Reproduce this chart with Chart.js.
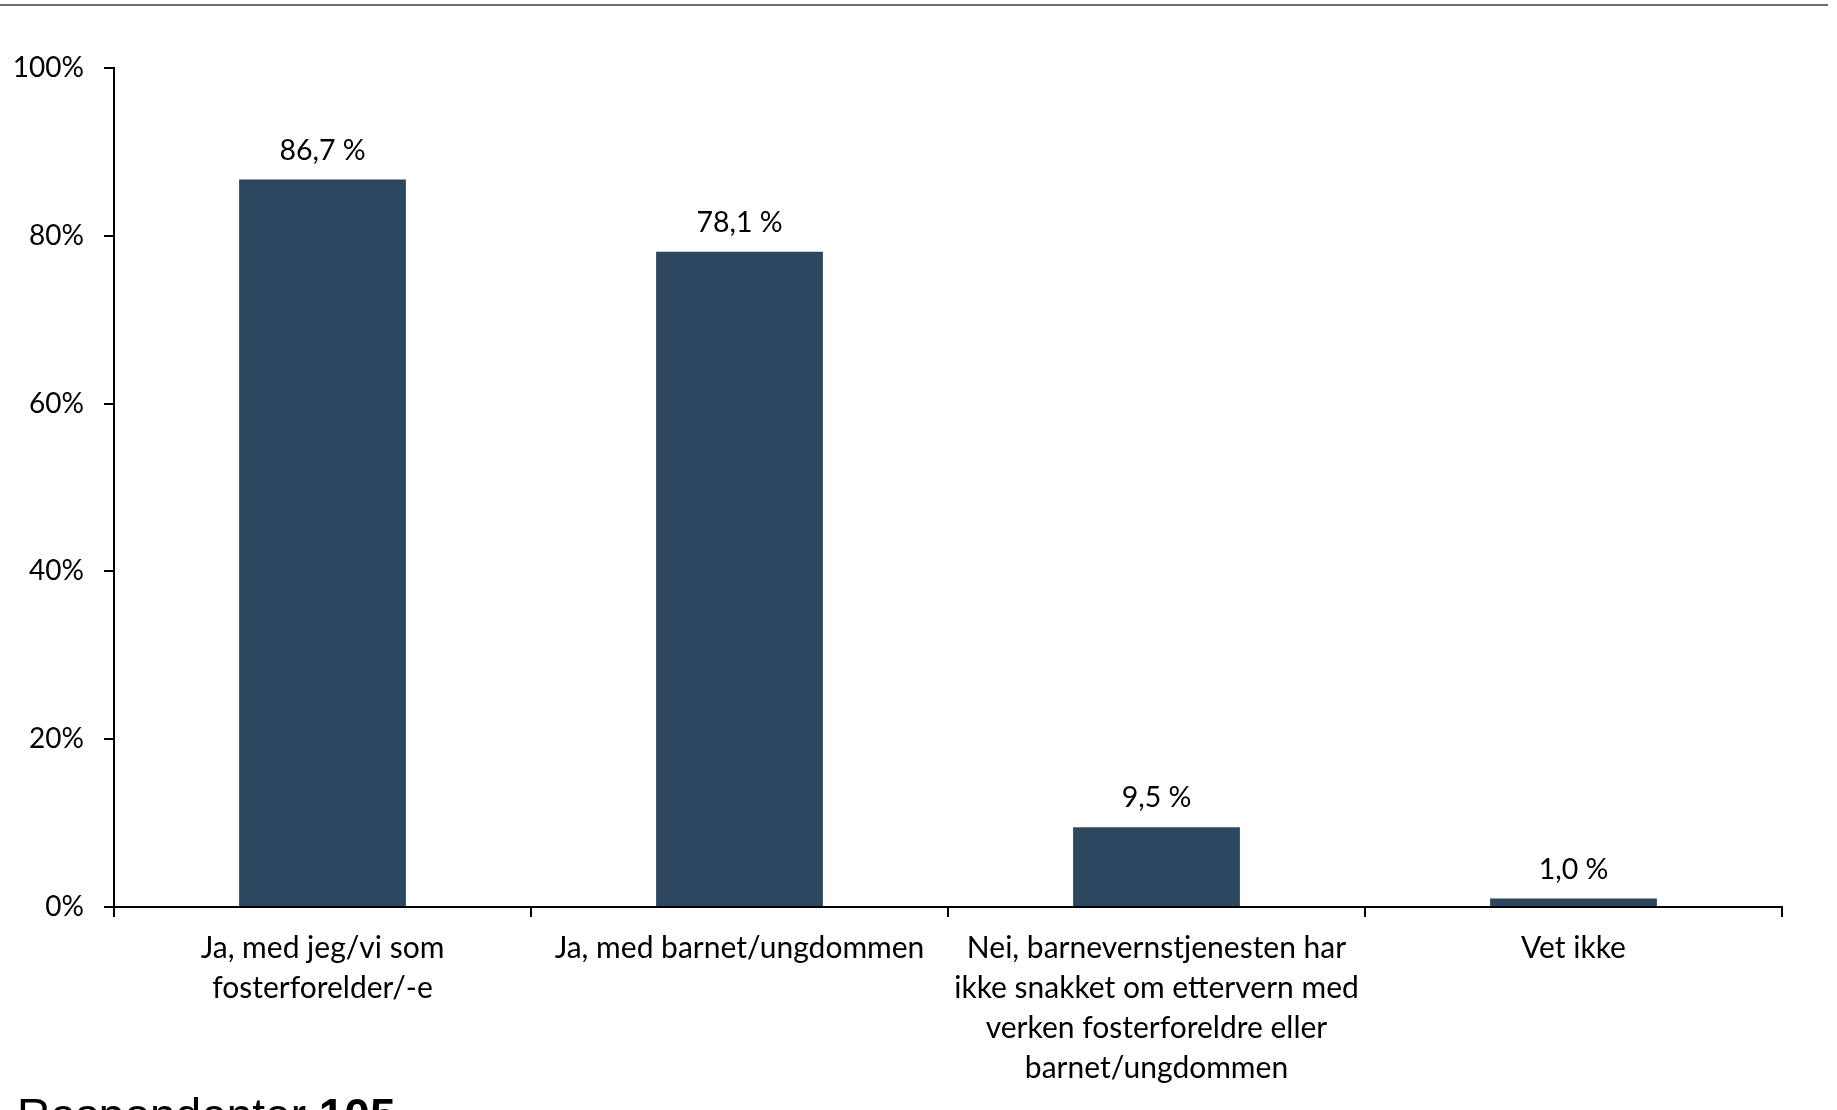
<!DOCTYPE html>
<html>
<head>
<meta charset="utf-8">
<script src="https://cdn.jsdelivr.net/npm/chart.js@4/dist/chart.umd.min.js"></script>
<style>
  html, body { margin: 0; padding: 0; background: #fff; overflow: hidden; }
  #wrap { position: relative; width: 1837px; height: 1110px; overflow: hidden; }
  #topLine { position: absolute; left: 0; top: 4px; width: 1828px; height: 2px; background: #707070; }
  #resp { position: absolute; left: 17px; top: 1092px; font-family: "Liberation Sans", Arial, sans-serif;
          font-size: 46px; color: #000; white-space: nowrap; line-height: 1; }
  #resp b { font-weight: bold; }
</style>
</head>
<body>
<div id="wrap">
  <canvas id="chart" width="1837" height="1110"></canvas>
  <div id="topLine"></div>
  <div id="resp">Respondenter <b>105</b></div>
</div>
<script>
// data
const categories = [
    ['Ja, med jeg/vi som', 'fosterforelder/-e'],
    ['Ja, med barnet/ungdommen'],
    ['Nei, barnevernstjenesten har', 'ikke snakket om ettervern med', 'verken fosterforeldre eller', 'barnet/ungdommen'],
    ['Vet ikke']
];
const values = [86.7, 78.1, 9.5, 1.0];
const yTicks = [0, 20, 40, 60, 80, 100];

const FONT = 'Lato, "Open Sans", sans-serif';

// value labels above bars, e.g. "86,7 %"
const valueLabels = {
    id: 'valueLabels',
    afterDatasetsDraw(chart) {
        const c = chart.ctx;
        const meta = chart.getDatasetMeta(0);
        c.save();
        c.font = '28.5px ' + FONT;
        c.fillStyle = '#000';
        c.textAlign = 'center';
        c.textBaseline = 'middle';
        meta.data.forEach((bar, i) => {
            const txt = values[i].toFixed(1).replace('.', ',') + ' %';
            c.fillText(txt, bar.x, bar.y - 29);
        });
        c.restore();
    }
};

new Chart(document.getElementById('chart'), {
    type: 'bar',
    data: {
        labels: categories,
        datasets: [{
            data: values,
            backgroundColor: '#2E4760',
            categoryPercentage: 1,
            barPercentage: 0.4
        }]
    },
    options: {
        responsive: false,
        animation: false,
        layout: { padding: { left: 0, right: 55, top: 68, bottom: 0 } },
        plugins: { legend: { display: false }, tooltip: { enabled: false } },
        scales: {
            x: {
                grid: { drawOnChartArea: false, drawTicks: true, tickLength: 10, color: '#000', lineWidth: 2, offset: true },
                border: { color: '#000', width: 2 },
                ticks: { color: '#000', font: { family: FONT, size: 30, lineHeight: 40 / 30 }, padding: 11, maxRotation: 0, autoSkip: false },
                afterFit(scale) { scale.height = 203; }
            },
            y: {
                min: 0,
                max: 100,
                afterBuildTicks(scale) { scale.ticks = yTicks.map(v => ({ value: v })); },
                grid: { drawOnChartArea: false, drawTicks: true, tickLength: 10, color: '#000', lineWidth: 2 },
                border: { color: '#000', width: 2 },
                ticks: { color: '#000', font: { family: FONT, size: 28 }, padding: 20, callback: v => v + '%' },
                afterFit(scale) { scale.width = 114; }
            }
        }
    },
    plugins: [valueLabels]
});
</script>
</body>
</html>
